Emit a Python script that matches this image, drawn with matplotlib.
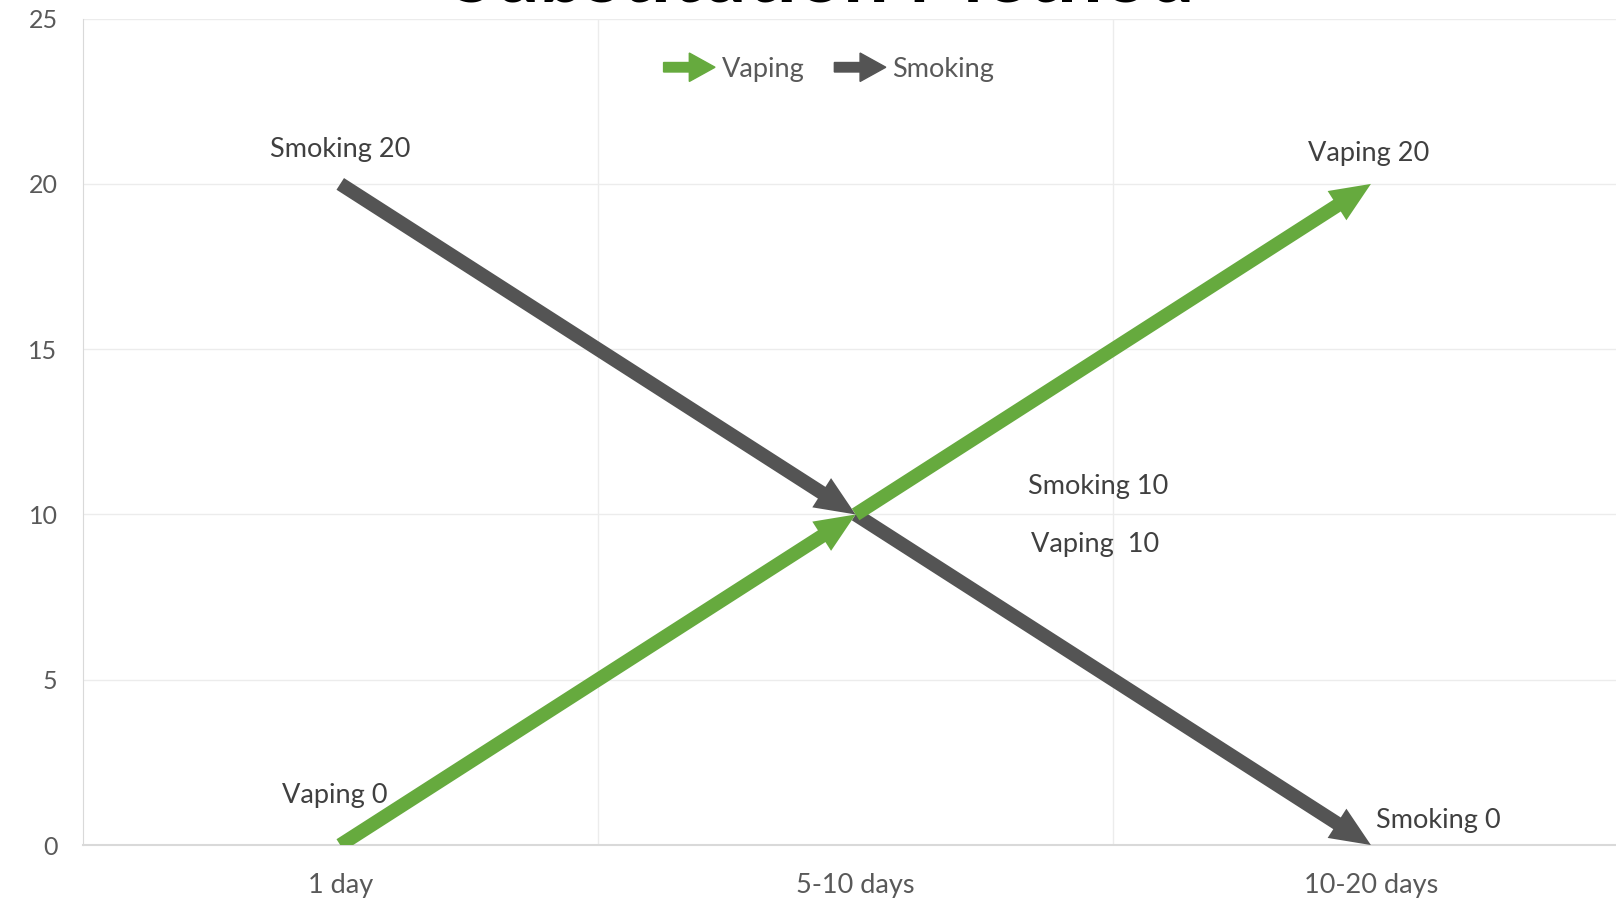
import matplotlib
matplotlib.use("Agg")
import matplotlib.pyplot as plt
import matplotlib.patches as mpatches
from matplotlib.legend_handler import HandlerPatch

plt.rcParams['font.family'] = ['Lato', 'DejaVu Sans']

# data
categories = ['1 day', '5-10 days', '10-20 days']
vaping = [0, 10, 20]
smoking = [20, 10, 0]
vaping_labels = ['Vaping 0', 'Vaping  10', 'Vaping 20']
smoking_labels = ['Smoking 20', 'Smoking 10', 'Smoking 0']

green = '#66aa3e'
grey = '#545454'
text_col = '#404040'

fig = plt.figure(figsize=(16.16, 8.99), dpi=100)
ax = fig.add_axes([0.0511, 0.060, 0.9567, 0.9193])
ax.set_xlim(-0.5, 2.5)
ax.set_ylim(0, 25)

# grid
ax.set_yticks(range(0, 26, 5))
ax.set_xticks(range(len(categories)))
ax.set_xticks([0.5, 1.5], minor=True)
ax.set_xticklabels(categories)
ax.grid(axis='y', color='#ececec', lw=1)
ax.grid(axis='x', which='minor', color='#ececec', lw=1)
ax.set_axisbelow(True)
ax.tick_params(which='both', length=0)
ax.tick_params(axis='y', labelsize=18, labelcolor='#595959', pad=18)
ax.tick_params(axis='x', labelsize=19.5, labelcolor='#595959', pad=20)
for s in ['top', 'right']:
    ax.spines[s].set_visible(False)
ax.spines['left'].set_color('#d9d9d9')
ax.spines['bottom'].set_color('#d9d9d9')
ax.spines['bottom'].set_linewidth(1.5)

style = 'simple,head_length=1.45,head_width=1.25,tail_width=0.5'


def draw_series(vals, color):
    for i in range(len(vals) - 1):
        arr = mpatches.FancyArrowPatch((i, vals[i]), (i + 1, vals[i + 1]),
                                       arrowstyle=style, mutation_scale=20,
                                       color=color, lw=0, shrinkA=0, shrinkB=0,
                                       zorder=3)
        ax.add_patch(arr)


draw_series(smoking, grey)
draw_series(vaping, green)

# data labels
lab_kw = dict(fontsize=19.5, color=text_col, ha='center', va='center')
ax.text(0, smoking[0] + 1.05, smoking_labels[0], **lab_kw)
ax.text(1.47, smoking[1] + 0.85, smoking_labels[1], **lab_kw)
ax.text(2.13, smoking[2] + 0.75, smoking_labels[2], **lab_kw)
ax.text(-0.01, vaping[0] + 1.5, vaping_labels[0], **lab_kw)
ax.text(1.465, vaping[1] - 0.9, vaping_labels[1], **lab_kw)
ax.text(1.995, vaping[2] + 0.93, vaping_labels[2], **lab_kw)

# title (cut off at top in original)
fig.text(0.509, 1 - 2 / 899, 'Substitution Method', fontsize=58,
         fontweight='bold', color='black', ha='center', va='baseline')


# legend with arrow icons
def make_arrow(legend, orig_handle, xdescent, ydescent, width, height, fontsize):
    return mpatches.FancyArrow(-xdescent, height / 2 - ydescent, width, 0,
                               width=height * 0.5, head_width=height * 1.5,
                               head_length=width * 0.5,
                               length_includes_head=True)


h_v = mpatches.Patch(color=green, label='Vaping')
h_s = mpatches.Patch(color=grey, label='Smoking')
leg = fig.legend(handles=[h_v, h_s], loc='center', bbox_to_anchor=(0.513, 0.923),
                 ncol=2, frameon=False, fontsize=19.5, labelcolor='#595959',
                 handlelength=1.9, handletextpad=0.25, columnspacing=1.1,
                 handler_map={mpatches.Patch: HandlerPatch(patch_func=make_arrow)})

fig.savefig('out.png', dpi=100)
